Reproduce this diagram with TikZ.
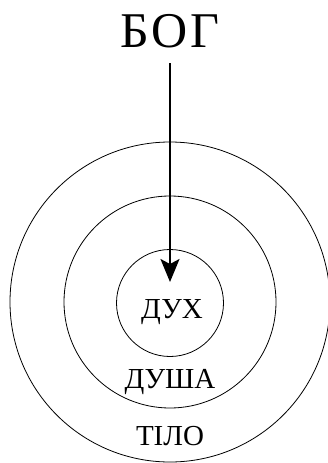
\documentclass[tikz,border=0pt]{standalone}
\usepackage{fontspec}
\setmainfont{Liberation Serif}
\newfontfamily\spaced[LetterSpace=6]{Liberation Serif}
\usetikzlibrary{arrows.meta}
\tikzset{
  ring/.style={draw, circle, line width=0.8pt, inner sep=0pt},
  word/.style={font=\fontsize{29}{29}\selectfont, inner sep=0pt},
  pil/.style={line width=2pt, -{Stealth[length=23pt, width=19pt, inset=5pt]}}
}
\begin{document}
\begin{tikzpicture}[x=1pt, y=-1pt]
        \useasboundingbox (0,0) rectangle (328,463);
        \node[ring, minimum size=320pt] (tilo) at (170,302) {};
        \node[ring, minimum size=212pt] (dusha) at (170,302) {};
        \node[ring, minimum size=107pt] (dukh) at (170,303) {};
        \node[font=\spaced\fontsize{50}{50}\selectfont, inner sep=0pt, outer sep=16pt, anchor=base] (bog) at (170,47) {БОГ};
        \node[word, anchor=base] (t1) at (172,318) {ДУХ};
        \node[word, anchor=base] (t2) at (170,388) {ДУША};
        \node[word, anchor=base] (t3) at (170,445) {ТІЛО};
        \coordinate (tip) at (170,282);
        \draw[pil] (bog.south) -- (tip);
    \end{tikzpicture}
\end{document}
